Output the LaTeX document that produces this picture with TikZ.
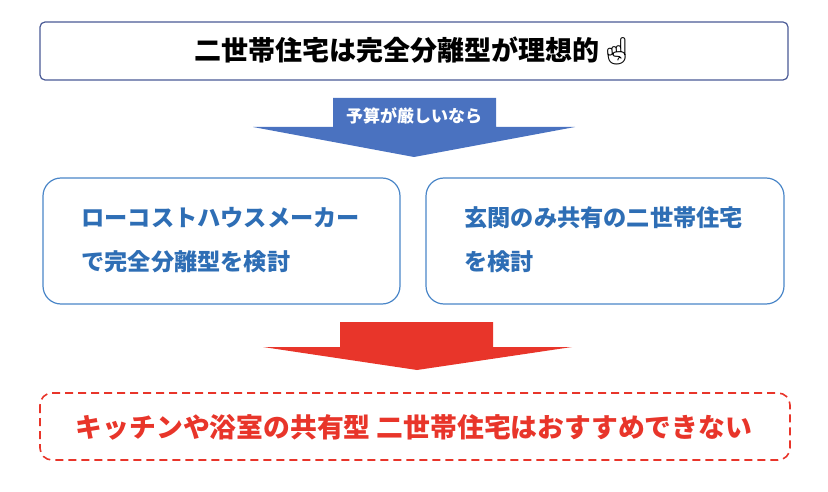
\documentclass[tikz,border=0pt]{standalone}
\usepackage{fontspec}
\setmainfont{Noto Sans CJK JP}
\newfontfamily\emo{Noto Emoji}
\definecolor{frame}{HTML}{4A5A96}
\definecolor{bframe}{HTML}{4A86C8}
\definecolor{btext}{HTML}{2E6EB5}
\definecolor{barrow}{HTML}{4A72C0}
\definecolor{rarrow}{HTML}{E8352A}
\tikzset{
 topbox/.style={draw=frame,line width=1.2pt,rounded corners=5pt,fill=white},
 midbox/.style={draw=bframe,line width=1.2pt,rounded corners=18pt,fill=white},
 endbox/.style={draw=rarrow,line width=1.6pt,dashed,dash pattern=on 8pt off 5pt,rounded corners=12pt},
 midtxt/.style={text=btext,font=\bfseries\fontsize{23.2}{44}\selectfont,align=left,anchor=west}
}
\begin{document}
\begin{tikzpicture}[x=1pt,y=-1pt]
\useasboundingbox (0,0) rectangle (828,492);
\draw[topbox] (40,22) rectangle (788,80);
\node (top) at (414,51) {\bfseries\fontsize{27}{30}\selectfont 二世帯住宅は完全分離型が理想的{\emo ☝}};
\fill[barrow] (333,98) -- (496,98) -- (496,127) -- (575,127) -- (414,157) -- (253,127) -- (333,127) -- cycle;
\node[text=white,font=\bfseries\fontsize{17}{20}\selectfont] (cond) at (414,116) {予算が厳しいなら};
\draw[midbox] (43,178) rectangle (400,304);
\draw[midbox] (426,178) rectangle (784,304);
\node[midtxt] (left) at (78,240) {ローコストハウスメーカー\\で完全分離型を検討};
\node[midtxt] (right) at (461,240) {玄関のみ共有の二世帯住宅\\を検討};
\fill[rarrow] (340,322) -- (493,322) -- (493,347) -- (572,347) -- (417,370) -- (263,347) -- (340,347) -- cycle;
\draw[endbox] (40,393) rectangle (790,460);
\node[text=rarrow,font=\bfseries\fontsize{26.8}{30}\selectfont] (concl) at (414,427) {キッチンや浴室の共有型 二世帯住宅はおすすめできない};
\end{tikzpicture}
\end{document}
